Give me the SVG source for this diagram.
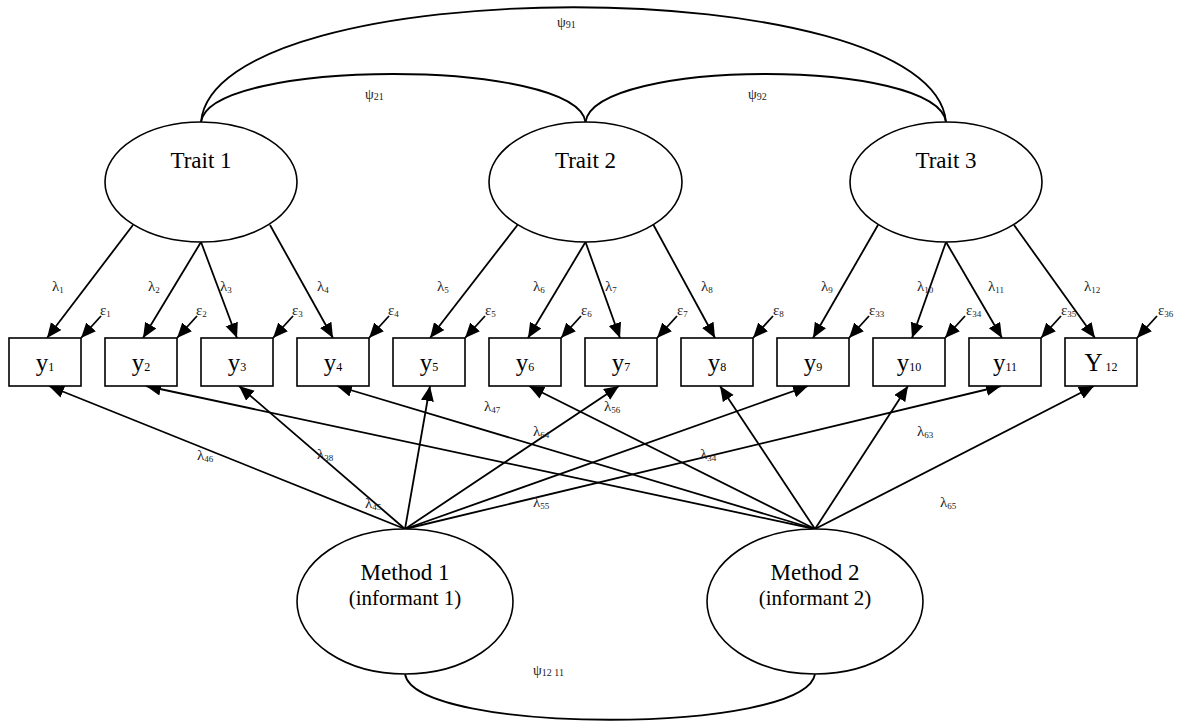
<svg xmlns="http://www.w3.org/2000/svg" width="1187" height="722" viewBox="0 0 1187 722">
<style>
  .ln { stroke:#000; stroke-width:1.8; fill:none; }
  .arr { stroke:#000; stroke-width:1.8; fill:none; marker-end:url(#ah); }
  .box { fill:#fff; stroke:#000; stroke-width:1.6; }
  .ell { fill:#fff; stroke:#000; stroke-width:1.6; }
  text { font-family:"Liberation Serif","Times New Roman",serif; fill:#000; }
  .nm { font-size:23px; text-anchor:middle; }
  .nm2 { font-size:21px; text-anchor:middle; }
  .bx { font-size:25px; text-anchor:middle; }
  .bs { font-size:12px; }
  .lb { font-size:15px; fill:#222; }
  .sb { font-size:9px; }
  .ps { font-size:14px; fill:#222; }
  .pss { font-size:10px; }
</style>
<defs>
  <marker id="ah" markerUnits="userSpaceOnUse" markerWidth="16" markerHeight="14" refX="15" refY="6.5" orient="auto">
    <path d="M0,0 L15,6.5 L0,13 z" fill="#000"/>
  </marker>
</defs>

<g id="connectors">
  <!-- covariances -->
  <path class="ln" d="M201,122 C215,-31 932,-31 946,122"/>
  <path class="ln" d="M201,122 C210,58 576,58 585.5,122"/>
  <path class="ln" d="M585.5,122 C595,58 937,58 946,122"/>
  <path class="ln" d="M405,674 C415,735 805,735 815,674"/>
  <!-- trait loadings -->
  <line class="arr" x1="133" y1="225" x2="47" y2="338"/>
  <line class="arr" x1="201" y1="242" x2="143" y2="338"/>
  <line class="arr" x1="201" y1="242" x2="237" y2="338"/>
  <line class="arr" x1="270" y1="225" x2="333" y2="338"/>
  <line class="arr" x1="517.5" y1="225" x2="430" y2="338"/>
  <line class="arr" x1="585.5" y1="242" x2="528" y2="338"/>
  <line class="arr" x1="585.5" y1="242" x2="620" y2="338"/>
  <line class="arr" x1="653.5" y1="225" x2="715" y2="338"/>
  <line class="arr" x1="878" y1="225" x2="813" y2="338"/>
  <line class="arr" x1="946" y1="242" x2="912" y2="338"/>
  <line class="arr" x1="946" y1="242" x2="1002" y2="338"/>
  <line class="arr" x1="1014" y1="225" x2="1095" y2="338"/>
  <!-- errors -->
  <line class="arr" x1="101" y1="316" x2="81" y2="338"/>
  <line class="arr" x1="197" y1="316" x2="177" y2="338"/>
  <line class="arr" x1="293" y1="316" x2="273" y2="338"/>
  <line class="arr" x1="389" y1="316" x2="369" y2="338"/>
  <line class="arr" x1="485" y1="316" x2="465" y2="338"/>
  <line class="arr" x1="581" y1="316" x2="561" y2="338"/>
  <line class="arr" x1="677" y1="316" x2="657" y2="338"/>
  <line class="arr" x1="773" y1="316" x2="753" y2="338"/>
  <line class="arr" x1="869" y1="316" x2="849" y2="338"/>
  <line class="arr" x1="965" y1="316" x2="945" y2="338"/>
  <line class="arr" x1="1061" y1="316" x2="1041" y2="338"/>
  <line class="arr" x1="1157" y1="316" x2="1137" y2="338"/>
  <!-- method 1 loadings -->
  <line class="arr" x1="405" y1="529" x2="49" y2="386"/>
  <line class="arr" x1="405" y1="529" x2="239" y2="386"/>
  <line class="arr" x1="405" y1="529" x2="430" y2="386"/>
  <line class="arr" x1="405" y1="529" x2="619" y2="386"/>
  <line class="arr" x1="405" y1="529" x2="808" y2="386"/>
  <line class="arr" x1="405" y1="529" x2="1001" y2="386"/>
  <!-- method 2 loadings -->
  <line class="arr" x1="815" y1="529" x2="146" y2="386"/>
  <line class="arr" x1="815" y1="529" x2="337" y2="386"/>
  <line class="arr" x1="815" y1="529" x2="529" y2="386"/>
  <line class="arr" x1="815" y1="529" x2="720" y2="386"/>
  <line class="arr" x1="815" y1="529" x2="908" y2="386"/>
  <line class="arr" x1="815" y1="529" x2="1094" y2="386"/>

  <!-- labels -->
  <text class="ps" x="557" y="27">ψ<tspan class="pss" dy="1">91</tspan></text>
  <text class="ps" x="365" y="99">ψ<tspan class="pss" dy="1">21</tspan></text>
  <text class="ps" x="748" y="99">ψ<tspan class="pss" dy="1">92</tspan></text>
  <text class="ps" x="533" y="675">ψ<tspan class="pss" dy="1">12 11</tspan></text>

  <text class="lb" x="52" y="291">λ<tspan class="sb" dy="2">1</tspan></text>
  <text class="lb" x="148" y="291">λ<tspan class="sb" dy="2">2</tspan></text>
  <text class="lb" x="220" y="291">λ<tspan class="sb" dy="2">3</tspan></text>
  <text class="lb" x="317" y="291">λ<tspan class="sb" dy="2">4</tspan></text>
  <text class="lb" x="437" y="291">λ<tspan class="sb" dy="2">5</tspan></text>
  <text class="lb" x="533" y="291">λ<tspan class="sb" dy="2">6</tspan></text>
  <text class="lb" x="605" y="291">λ<tspan class="sb" dy="2">7</tspan></text>
  <text class="lb" x="701" y="291">λ<tspan class="sb" dy="2">8</tspan></text>
  <text class="lb" x="821" y="291">λ<tspan class="sb" dy="2">9</tspan></text>
  <text class="lb" x="917" y="291">λ<tspan class="sb" dy="2">10</tspan></text>
  <text class="lb" x="988" y="291">λ<tspan class="sb" dy="2">11</tspan></text>
  <text class="lb" x="1084" y="291">λ<tspan class="sb" dy="2">12</tspan></text>

  <text class="lb" x="100" y="315">ε<tspan class="sb" dy="2">1</tspan></text>
  <text class="lb" x="196" y="315">ε<tspan class="sb" dy="2">2</tspan></text>
  <text class="lb" x="292" y="315">ε<tspan class="sb" dy="2">3</tspan></text>
  <text class="lb" x="388" y="315">ε<tspan class="sb" dy="2">4</tspan></text>
  <text class="lb" x="485" y="315">ε<tspan class="sb" dy="2">5</tspan></text>
  <text class="lb" x="581" y="315">ε<tspan class="sb" dy="2">6</tspan></text>
  <text class="lb" x="677" y="315">ε<tspan class="sb" dy="2">7</tspan></text>
  <text class="lb" x="773" y="315">ε<tspan class="sb" dy="2">8</tspan></text>
  <text class="lb" x="869" y="315">ε<tspan class="sb" dy="2">33</tspan></text>
  <text class="lb" x="966" y="315">ε<tspan class="sb" dy="2">34</tspan></text>
  <text class="lb" x="1061" y="315">ε<tspan class="sb" dy="2">35</tspan></text>
  <text class="lb" x="1158" y="315">ε<tspan class="sb" dy="2">36</tspan></text>

  <text class="lb" x="197" y="460">λ<tspan class="sb" dy="2">46</tspan></text>
  <text class="lb" x="317" y="459">λ<tspan class="sb" dy="2">38</tspan></text>
  <text class="lb" x="365" y="508">λ<tspan class="sb" dy="2">45</tspan></text>
  <text class="lb" x="484" y="411">λ<tspan class="sb" dy="2">47</tspan></text>
  <text class="lb" x="533" y="436">λ<tspan class="sb" dy="2">64</tspan></text>
  <text class="lb" x="533" y="507">λ<tspan class="sb" dy="2">55</tspan></text>
  <text class="lb" x="604" y="411">λ<tspan class="sb" dy="2">56</tspan></text>
  <text class="lb" x="700" y="459">λ<tspan class="sb" dy="2">34</tspan></text>
  <text class="lb" x="917" y="436">λ<tspan class="sb" dy="2">63</tspan></text>
  <text class="lb" x="940" y="507">λ<tspan class="sb" dy="2">65</tspan></text>
</g>

<g id="trait1"><ellipse class="ell" cx="201" cy="182" rx="96" ry="60"/><text class="nm" x="201" y="168">Trait 1</text></g>
<g id="trait2"><ellipse class="ell" cx="585.5" cy="182" rx="96.5" ry="60"/><text class="nm" x="585.5" y="168">Trait 2</text></g>
<g id="trait3"><ellipse class="ell" cx="946" cy="182" rx="96" ry="60"/><text class="nm" x="946" y="168">Trait 3</text></g>

<g id="method1"><ellipse class="ell" cx="405" cy="601.5" rx="108" ry="72.5"/><text class="nm" x="405" y="580">Method 1</text><text class="nm2" x="405" y="605">(informant 1)</text></g>
<g id="method2"><ellipse class="ell" cx="815" cy="601.5" rx="108" ry="72.5"/><text class="nm" x="815" y="580">Method 2</text><text class="nm2" x="815" y="605">(informant 2)</text></g>

<g id="y1"><rect class="box" x="9" y="338" width="72" height="48"/><text class="bx" x="45" y="371">y<tspan class="bs">1</tspan></text></g>
<g id="y2"><rect class="box" x="105" y="338" width="72" height="48"/><text class="bx" x="141" y="371">y<tspan class="bs">2</tspan></text></g>
<g id="y3"><rect class="box" x="201" y="338" width="72" height="48"/><text class="bx" x="237" y="371">y<tspan class="bs">3</tspan></text></g>
<g id="y4"><rect class="box" x="297" y="338" width="72" height="48"/><text class="bx" x="333" y="371">y<tspan class="bs">4</tspan></text></g>
<g id="y5"><rect class="box" x="393" y="338" width="72" height="48"/><text class="bx" x="429" y="371">y<tspan class="bs">5</tspan></text></g>
<g id="y6"><rect class="box" x="489" y="338" width="72" height="48"/><text class="bx" x="525" y="371">y<tspan class="bs">6</tspan></text></g>
<g id="y7"><rect class="box" x="585" y="338" width="72" height="48"/><text class="bx" x="621" y="371">y<tspan class="bs">7</tspan></text></g>
<g id="y8"><rect class="box" x="681" y="338" width="72" height="48"/><text class="bx" x="717" y="371">y<tspan class="bs">8</tspan></text></g>
<g id="y9"><rect class="box" x="777" y="338" width="72" height="48"/><text class="bx" x="813" y="371">y<tspan class="bs">9</tspan></text></g>
<g id="y10"><rect class="box" x="873" y="338" width="72" height="48"/><text class="bx" x="909" y="371">y<tspan class="bs">10</tspan></text></g>
<g id="y11"><rect class="box" x="969" y="338" width="72" height="48"/><text class="bx" x="1005" y="371">y<tspan class="bs">11</tspan></text></g>
<g id="y12"><rect class="box" x="1065" y="338" width="72" height="48"/><text class="bx" x="1101" y="371">Y<tspan class="bs"> 12</tspan></text></g>
</svg>
